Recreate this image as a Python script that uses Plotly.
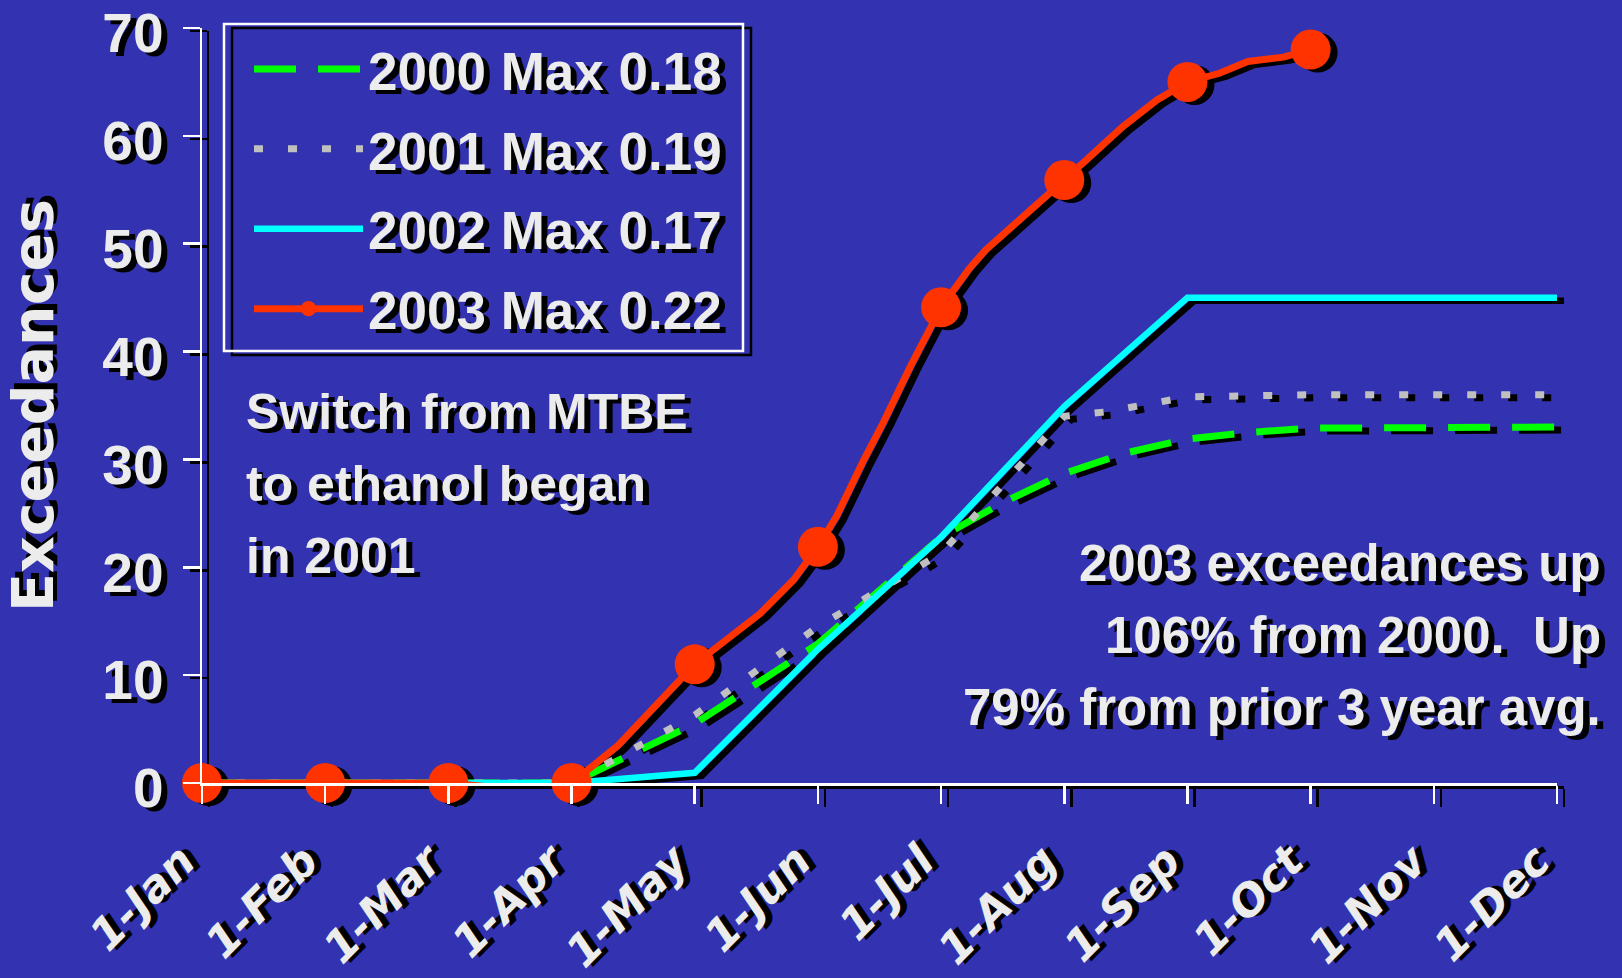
import plotly.graph_objects as go

# ---------------- data ----------------
month_labels = ["1-Jan", "1-Feb", "1-Mar", "1-Apr", "1-May", "1-Jun",
                "1-Jul", "1-Aug", "1-Sep", "1-Oct", "1-Nov", "1-Dec"]
month_pos = list(range(len(month_labels)))
y_ticks = [0, 10, 20, 30, 40, 50, 60, 70]

series_names = ["2000 Max 0.18", "2001 Max 0.19", "2002 Max 0.17", "2003 Max 0.22"]

# x values are in months after 1-Jan (0 = 1-Jan, 11 = 1-Dec)
x_2000 = [0, 1, 2, 3, 4, 5, 6, 6.5, 7, 7.5, 8, 8.5, 9, 10, 11]
y_2000 = [0, 0, 0, 0, 5.5, 12.9, 22.8, 26.0, 28.7, 30.6, 31.9, 32.5, 32.9, 33, 33]

x_2001 = [0, 1, 2, 3, 4, 5, 6, 7, 7.33, 7.61, 8, 9, 10, 11]
y_2001 = [0, 0, 0, 0, 6.3, 14.5, 21.3, 34.0, 34.4, 35.0, 35.8, 36, 36, 36]

x_2002 = [0, 1, 2, 3, 4, 5, 6, 7, 8, 9, 10, 11]
y_2002 = [0, 0, 0, 0, 0.95, 12.4, 22.8, 34.9, 45, 45, 45, 45]

x_2003 = [0, 1, 2, 2.64, 3, 3.37, 4, 4.53, 4.8, 5, 5.15, 5.37, 5.53, 5.75,
          6, 6.23, 6.36, 7, 7.21, 7.47, 7.75, 8, 8.26, 8.49, 8.78, 9]
y_2003 = [0, 0, 0, -0.7, 0, 3.4, 11.0, 15.7, 18.8, 21.9, 24.7, 29.9, 33.4, 38.6,
          44.1, 47.7, 49.4, 55.9, 58.1, 60.8, 63.3, 65.0, 65.8, 66.9, 67.3, 68.0]

annot_left_lines = ["Switch from MTBE", "to ethanol began", "in 2001"]
annot_right_lines = ["2003 exceedances up", "106% from 2000.\u00a0 Up",
                     "79% from prior 3 year avg."]
y_title = "Exceedances"

# ---------------- styling ----------------
BG = "#3333b2"
TXT = "#ececec"
SHADOW = "6px 4px 0px #000000"
TEXTFONT = "Liberation Sans, Arial, sans-serif"
TXT_SIZE = 50
RIGHT_SIZE = 51
LEG_SIZE = 53

W, H = 1622, 978
L, R, T, B = 202, 58, 28, 192
AW, AH = W - L - R, H - T - B
SX, SY = 7, 3  # drop-shadow offset in px


def fx(px):
    return (px - L) / AW


def fy(py):
    return (H - B - py) / AH


styles = [
    dict(color="#00ff00", width=7, dash="42px,22px", marker=False),
    dict(color="#c0c0c0", width=7, dash="9px,25px", marker=False),
    dict(color="#00ffff", width=6.5, dash="solid", marker=False),
    dict(color="#ff3300", width=7, dash="solid", marker=True),
]
xs = [x_2000, x_2001, x_2002, x_2003]
ys = [y_2000, y_2001, y_2002, y_2003]

fig = go.Figure()


def marker_for(x, color):
    sizes = [40 if float(v).is_integer() else 0 for v in x]
    return dict(size=sizes, color=color, opacity=1, line=dict(width=0))


# shadow copies (drawn first, on the offset subplot)
for name, x, y, st in zip(series_names, xs, ys, styles):
    fig.add_trace(go.Scatter(
        x=x, y=y, xaxis="x", yaxis="y", showlegend=False, hoverinfo="skip",
        mode="lines+markers" if st["marker"] else "lines",
        line=dict(color="#000000", width=st["width"], dash=st["dash"]),
        marker=marker_for(x, "#000000") if st["marker"] else None,
        cliponaxis=False,
    ))

# main series
for name, x, y, st in zip(series_names, xs, ys, styles):
    fig.add_trace(go.Scatter(
        x=x, y=y, xaxis="x2", yaxis="y2", name=name, legendgroup=name,
        mode="lines+markers" if st["marker"] else "lines",
        line=dict(color=st["color"], width=st["width"], dash=st["dash"]),
        marker=marker_for(x, st["color"]) if st["marker"] else None,
        cliponaxis=False,
    ))

main_xdom = [0, 1 - SX / AW]
main_ydom = [SY / AH, 1]
sh_xdom = [SX / AW, 1]
sh_ydom = [0, 1 - SY / AH]

common_x = dict(range=[0, 11], tickmode="array", tickvals=month_pos,
                showgrid=False, zeroline=False, showline=True, linewidth=2.5,
                ticks="outside", ticklen=18, tickwidth=2.5, fixedrange=True)
common_y = dict(range=[0, 70], tickmode="array", tickvals=y_ticks,
                showgrid=False, zeroline=False, showline=True, linewidth=2.5,
                ticks="outside", ticklen=17, tickwidth=2.5, fixedrange=True)

annotations = []
for i, line in enumerate(annot_left_lines):
    annotations.append(dict(
        text=line, xref="paper", yref="paper", x=fx(244), y=fy(412 + 72 * i),
        xanchor="left", yanchor="middle", align="left", showarrow=False,
        font=dict(family=TEXTFONT, size=TXT_SIZE, weight="bold", color=TXT,
                  shadow=SHADOW)))
for i, line in enumerate(annot_right_lines):
    annotations.append(dict(
        text=line, xref="paper", yref="paper", x=fx(1603), y=fy(563 + 72 * i),
        xanchor="right", yanchor="middle", align="right", showarrow=False,
        font=dict(family=TEXTFONT, size=RIGHT_SIZE, weight="bold", color=TXT,
                  shadow=SHADOW)))

fig.update_layout(
    width=W, height=H,
    margin=dict(l=L, r=R, t=T, b=B, autoexpand=False),
    paper_bgcolor=BG, plot_bgcolor="rgba(0,0,0,0)",
    xaxis=dict(**common_x, domain=sh_xdom, anchor="y", linecolor="#000000",
               tickcolor="#000000", showticklabels=False),
    yaxis=dict(**common_y, domain=sh_ydom, anchor="x", linecolor="#000000",
               tickcolor="#000000", showticklabels=False),
    xaxis2=dict(**common_x, domain=main_xdom, anchor="y2", linecolor="#ffffff",
                tickcolor="#ffffff", ticktext=month_labels, tickangle=-45,
                ticklabelstandoff=14, ticklabelshift=-20,
                ticklabeloverflow="allow",
                tickfont=dict(family="DejaVu Sans", size=44, weight="bold",
                              style="italic", color=TXT, shadow=SHADOW)),
    yaxis2=dict(**common_y, domain=main_ydom, anchor="x2", linecolor="#ffffff",
                tickcolor="#ffffff", ticklabelstandoff=8, ticklabelshift=5,
                ticklabeloverflow="allow",
                tickfont=dict(family="Liberation Sans", size=55, weight="bold",
                              color=TXT, shadow=SHADOW),
                title=dict(text=y_title, standoff=45,
                           font=dict(family="DejaVu Sans", size=57, weight="bold",
                                     color=TXT, shadow=SHADOW))),
    legend=dict(x=fx(249), y=fy(28), xanchor="left", yanchor="top",
                bgcolor="rgba(0,0,0,0)", borderwidth=0, itemwidth=109,
                traceorder="grouped", tracegroupgap=8,
                font=dict(family=TEXTFONT, size=LEG_SIZE, weight="bold", color=TXT,
                          shadow=SHADOW)),
    shapes=[
        dict(type="rect", xref="paper", yref="paper", layer="below",
             x0=fx(232), x1=fx(751), y0=fy(355), y1=fy(28),
             line=dict(color="#000000", width=2.5)),
        dict(type="rect", xref="paper", yref="paper", layer="below",
             x0=fx(224), x1=fx(743), y0=fy(351), y1=fy(24),
             line=dict(color="#ffffff", width=2.5)),
    ],
    annotations=annotations,
)

fig.write_html(
    "out.html",
    config={"displayModeBar": False, "staticPlot": True},
    post_script=("document.body.style.margin='0';"
                 "document.body.style.padding='0';"
                 "document.body.style.overflow='hidden';"
                 "document.body.style.background='" + BG + "';"),
)
